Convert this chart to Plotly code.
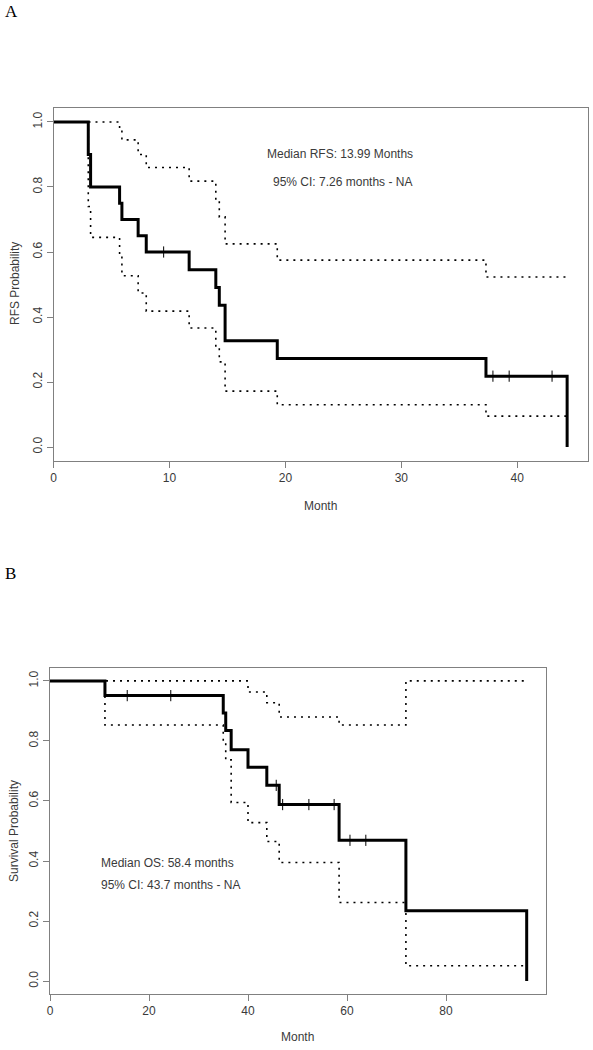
import plotly.graph_objects as go

# ---------------- Panel A: RFS ----------------
rfs_time = [0, 3.0, 3.2, 5.7, 5.9, 7.3, 8.0, 11.7, 14.0, 14.3, 14.8, 19.3, 37.3, 44.3]
rfs_surv = [1.0, 0.90, 0.80, 0.75, 0.70, 0.65, 0.60, 0.545, 0.491, 0.436, 0.327, 0.272, 0.218, 0.0]
rfs_censor = [9.5, 37.9, 39.3, 43.0]

rfs_up_time = [0, 5.7, 5.9, 7.3, 8.0, 11.7, 14.0, 14.3, 14.8, 19.3, 37.3, 44.3]
rfs_up_val = [1.0, 0.98, 0.945, 0.90, 0.86, 0.818, 0.76, 0.708, 0.625, 0.575, 0.523, 0.523]

rfs_lo_time = [0, 3.0, 3.2, 5.7, 5.9, 7.3, 8.0, 11.7, 14.0, 14.3, 14.8, 19.3, 37.3, 44.3]
rfs_lo_val = [1.0, 0.74, 0.645, 0.59, 0.527, 0.474, 0.418, 0.366, 0.305, 0.262, 0.172, 0.13, 0.095, 0.095]

# ---------------- Panel B: OS ----------------
os_time = [0, 11.1, 35.0, 35.5, 36.6, 40.0, 43.8, 46.3, 58.4, 71.9, 96.3]
os_surv = [1.0, 0.951, 0.893, 0.835, 0.771, 0.712, 0.652, 0.588, 0.469, 0.234, 0.0]
os_censor = [15.6, 24.4, 45.7, 47.0, 52.3, 57.4, 60.6, 63.8]

os_up_time = [0, 40.0, 43.8, 46.3, 58.4, 71.9, 96.3]
os_up_val = [1.0, 0.963, 0.927, 0.88, 0.853, 1.0, 1.0]

os_lo_time = [0, 11.1, 35.0, 35.5, 36.6, 40.0, 43.8, 46.3, 58.4, 71.9, 96.3]
os_lo_val = [1.0, 0.853, 0.80, 0.737, 0.595, 0.528, 0.465, 0.395, 0.262, 0.051, 0.051]

W, H = 593, 1050
AXCOL = "#808080"
TXT = "#3a3a3a"
FONT = "Liberation Sans, Arial, sans-serif"


def step_at(times, vals, t):
    v = vals[0]
    for ti, vi in zip(times, vals):
        if ti <= t:
            v = vi
    return v


fig = go.Figure()

dotted = dict(color="black", width=1.6, dash="2px,5px")


def add_panel(xa, ya, t, s, cens, ut, uv, lt, lv):
    fig.add_trace(go.Scatter(x=ut, y=uv, mode="lines", line_shape="hv", line=dotted,
                             xaxis=xa, yaxis=ya, showlegend=False, hoverinfo="skip"))
    fig.add_trace(go.Scatter(x=lt, y=lv, mode="lines", line_shape="hv", line=dotted,
                             xaxis=xa, yaxis=ya, showlegend=False, hoverinfo="skip"))
    fig.add_trace(go.Scatter(x=t, y=s, mode="lines", line_shape="hv",
                             line=dict(color="black", width=3),
                             xaxis=xa, yaxis=ya, showlegend=False))
    fig.add_trace(go.Scatter(x=cens, y=[step_at(t, s, c) for c in cens], mode="markers",
                             marker=dict(symbol="line-ns-open", size=8, color="black",
                                         line=dict(color="black", width=1)),
                             xaxis=xa, yaxis=ya, showlegend=False))


add_panel("x", "y", rfs_time, rfs_surv, rfs_censor, rfs_up_time, rfs_up_val, rfs_lo_time, rfs_lo_val)
add_panel("x2", "y2", os_time, os_surv, os_censor, os_up_time, os_up_val, os_lo_time, os_lo_val)


def px_x(p):
    return p / W


def px_y(p):
    return 1 - p / H


axis_common = dict(showline=True, mirror=True, linecolor=AXCOL, linewidth=1,
                   ticks="outside", ticklen=6, tickcolor=AXCOL, tickwidth=1,
                   showgrid=False, zeroline=False, automargin=False,
                   tickfont=dict(family=FONT, size=12, color=TXT))

yticks = [0.0, 0.2, 0.4, 0.6, 0.8, 1.0]

fig.update_layout(
    width=W, height=H,
    margin=dict(l=0, r=0, t=0, b=0),
    paper_bgcolor="white", plot_bgcolor="white",
    xaxis=dict(domain=[px_x(53.5), px_x(588)], range=[0, 46.1],
               tickvals=[0, 10, 20, 30, 40], anchor="y", **axis_common),
    yaxis=dict(domain=[px_y(461), px_y(108)], range=[-0.043, 1.043],
               tickvals=yticks, tickformat=".1f", tickangle=-90, anchor="x", **axis_common),
    xaxis2=dict(domain=[px_x(50), px_x(546)], range=[0, 100.2],
                tickvals=[0, 20, 40, 60, 80], anchor="y2", **axis_common),
    yaxis2=dict(domain=[px_y(994), px_y(668)], range=[-0.043, 1.043],
                tickvals=yticks, tickformat=".1f", tickangle=-90, anchor="x2", **axis_common),
)

ann = []
# Panel letters
ann.append(dict(x=px_x(3), y=px_y(11), xref="paper", yref="paper", text="A", showarrow=False,
                xanchor="left", yanchor="middle",
                font=dict(family="Liberation Serif, Times New Roman, serif", size=17, color="black")))
ann.append(dict(x=px_x(3), y=px_y(573), xref="paper", yref="paper", text="B", showarrow=False,
                xanchor="left", yanchor="middle",
                font=dict(family="Liberation Serif, Times New Roman, serif", size=17, color="black")))
# Axis titles
ann.append(dict(x=px_x(320), y=px_y(506), xref="paper", yref="paper", text="Month", showarrow=False,
                xanchor="center", yanchor="middle", font=dict(family=FONT, size=12, color=TXT)))
ann.append(dict(x=px_x(15), y=px_y(284), xref="paper", yref="paper", text="RFS Probability",
                showarrow=False, textangle=-90, xanchor="center", yanchor="middle",
                font=dict(family=FONT, size=12, color=TXT)))
ann.append(dict(x=px_x(297), y=px_y(1037), xref="paper", yref="paper", text="Month", showarrow=False,
                xanchor="center", yanchor="middle", font=dict(family=FONT, size=12, color=TXT)))
ann.append(dict(x=px_x(14), y=px_y(831), xref="paper", yref="paper", text="Survival Probability",
                showarrow=False, textangle=-90, xanchor="center", yanchor="middle",
                font=dict(family=FONT, size=12, color=TXT)))
# In-plot text
ann.append(dict(x=24.7, y=0.90, xref="x", yref="y", text="Median RFS: 13.99 Months", showarrow=False,
                xanchor="center", yanchor="middle", font=dict(family=FONT, size=12, color=TXT)))
ann.append(dict(x=24.9, y=0.815, xref="x", yref="y", text="95% CI: 7.26 months - NA", showarrow=False,
                xanchor="center", yanchor="middle", font=dict(family=FONT, size=12, color=TXT)))
ann.append(dict(x=9.9, y=0.395, xref="x2", yref="y2", text="Median OS: 58.4 months", showarrow=False,
                xanchor="left", yanchor="middle", font=dict(family=FONT, size=12, color=TXT)))
ann.append(dict(x=9.9, y=0.319, xref="x2", yref="y2", text="95% CI: 43.7 months - NA", showarrow=False,
                xanchor="left", yanchor="middle", font=dict(family=FONT, size=12, color=TXT)))
fig.update_layout(annotations=ann)

fig.write_html("out.html", config={"displayModeBar": False},
               post_script="document.body.style.margin='0';document.body.style.overflow='hidden';")
